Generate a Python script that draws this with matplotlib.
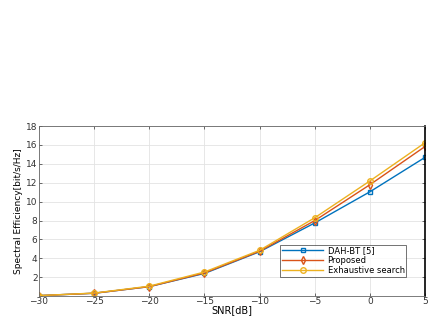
import numpy as np
from matplotlib import pyplot as plt

# data
snr = [-30, -25, -20, -15, -10, -5, 0, 5]
dah_bt = [0.05, 0.3, 1.0, 2.4, 4.7, 7.75, 11.05, 14.7]
proposed = [0.05, 0.3, 1.0, 2.45, 4.75, 8.0, 11.8, 15.85]
exhaustive = [0.05, 0.32, 1.05, 2.55, 4.85, 8.3, 12.2, 16.25]
labels = ['DAH-BT [5]', 'Proposed', 'Exhaustive search']

plt.rcParams['font.family'] = 'DejaVu Sans'
fig = plt.figure(figsize=(4.42, 3.16), dpi=100)
ax = fig.add_axes([0.088, 0.063, 0.874, 0.538])

ax.grid(color='#e3e3e3', linewidth=0.6, zorder=0)
ax.plot(snr, dah_bt, color='#0072BD', marker='s', ms=3.5, mfc='none', lw=1.0, label=labels[0])
ax.plot(snr, proposed, color='#D95319', marker='d', ms=4, mfc='none', lw=1.0, label=labels[1])
ax.plot(snr, exhaustive, color='#EDB120', marker='o', ms=4, mfc='none', lw=1.0, label=labels[2])

ax.set_xlim(-30, 5)
ax.set_ylim(0, 18)
ax.set_xticks(range(-30, 6, 5))
ax.set_yticks(range(2, 19, 2))
ax.tick_params(labelsize=6.5, colors='#333333', direction='in', length=2, width=0.5,
               top=True, right=True, pad=1)
for s in ['left', 'bottom', 'top']:
    ax.spines[s].set_color('#666666')
    ax.spines[s].set_linewidth(0.6)
ax.spines['right'].set_color('black')
ax.spines['right'].set_linewidth(1.2)

ax.set_xlabel('SNR[dB]', fontsize=7, labelpad=-1)
ax.set_ylabel('Spectral Efficiency[bit/s/Hz]', fontsize=6.5, labelpad=2)

leg = ax.legend(loc='lower right', bbox_to_anchor=(0.962, 0.09), fontsize=6, frameon=True,
                fancybox=False, edgecolor='#333333', handlelength=5.0, borderpad=0.2,
                labelspacing=0.1, handletextpad=0.5)
leg.get_frame().set_linewidth(0.6)

fig.savefig('out.png', dpi=100)
